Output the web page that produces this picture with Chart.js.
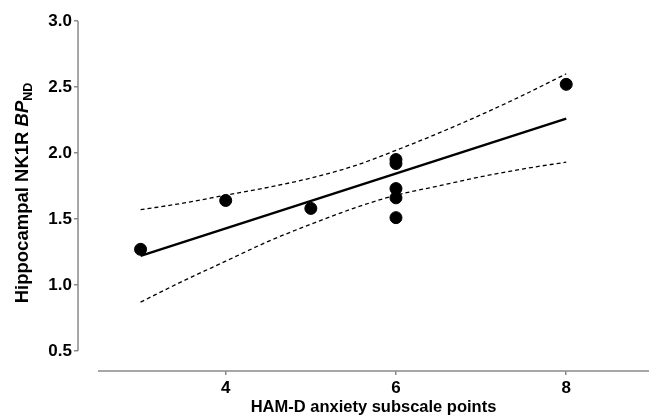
<!DOCTYPE html>
<html>
<head>
<meta charset="utf-8">
<script src="https://cdn.jsdelivr.net/npm/chart.js@4"></script>
<style>
  html, body { margin: 0; padding: 0; background: #fff; }
  #wrap { width: 649px; height: 418px; }
</style>
</head>
<body>
<div id="wrap"><canvas id="chart" width="649" height="418"></canvas></div>
<script>
// data
const anxietyScore = [3, 4, 5, 6, 6, 6, 6, 6, 8];
const bindingPotential = [1.27, 1.64, 1.58, 1.95, 1.92, 1.73, 1.66, 1.51, 2.52];

// regression line and 95% band
const fitX = [3, 8];
const fitY = [1.22, 2.26];
const bandX = [3, 3.5, 4, 4.5, 5, 5.5, 6, 6.5, 7, 7.5, 8];
const bandUpper = [1.57, 1.62, 1.68, 1.74, 1.81, 1.90, 2.02, 2.15, 2.29, 2.44, 2.60];
const bandLower = [0.87, 1.03, 1.18, 1.33, 1.46, 1.58, 1.68, 1.75, 1.82, 1.88, 1.93];

const xTicks = [4, 6, 8];
const yTicks = [0.5, 1.0, 1.5, 2.0, 2.5, 3.0];

const FONT = '"Liberation Sans", Arial, Helvetica, sans-serif';
const AXIS_GREY = '#8a8a8a';

function pts(xs, ys) {
    return xs.map((x, i) => ({ x: x, y: ys[i] }));
}

// Prism style offset axes + the two axis titles
const axesPlugin = {
    id: 'prismAxes',
    afterDraw(chart) {
        const ctx = chart.ctx;
        const xs = chart.scales.x, ys = chart.scales.y;
        const area = chart.chartArea;
        ctx.save();
        ctx.strokeStyle = AXIS_GREY;
        ctx.lineWidth = 1.5;
        // y axis line
        ctx.beginPath();
        ctx.moveTo(area.left, ys.getPixelForValue(3.0));
        ctx.lineTo(area.left, ys.getPixelForValue(0.5));
        ctx.stroke();
        // x axis line
        const xStart = xs.getPixelForValue(2.5);
        ctx.beginPath();
        ctx.moveTo(xStart, area.bottom);
        ctx.lineTo(chart.width, area.bottom);
        ctx.stroke();

        // x title
        ctx.fillStyle = '#000';
        ctx.font = 'bold 16.5px ' + FONT;
        ctx.textAlign = 'center';
        ctx.textBaseline = 'alphabetic';
        ctx.fillText('HAM-D anxiety subscale points', (xStart + chart.width) / 2, 412);

        // y title with italic BP and subscript ND
        ctx.translate(28, 193);
        ctx.rotate(-Math.PI / 2);
        const parts = [
            { t: 'Hippocampal NK1R ', f: 'bold 18.5px ' + FONT, dy: 0 },
            { t: 'BP', f: 'italic bold 18.5px ' + FONT, dy: 0 },
            { t: 'ND', f: 'bold 12.5px ' + FONT, dy: 4 }
        ];
        let total = 0;
        parts.forEach(p => { ctx.font = p.f; p.w = ctx.measureText(p.t).width; total += p.w; });
        let cx = -total / 2;
        ctx.textAlign = 'left';
        parts.forEach(p => {
            ctx.font = p.f;
            ctx.fillText(p.t, cx, p.dy);
            cx += p.w;
        });
        ctx.restore();
    }
};

var ctx = document.getElementById('chart').getContext('2d');
var myChart = new Chart(ctx, {
    type: 'scatter',
    data: {
        datasets: [{
            label: 'Subjects',
            data: pts(anxietyScore, bindingPotential),
            backgroundColor: '#000',
            borderColor: '#000',
            pointRadius: 6,
            pointHoverRadius: 6
        }, {
            label: 'Fit',
            data: pts(fitX, fitY),
            showLine: true,
            borderColor: '#000',
            borderWidth: 2.5,
            pointRadius: 0
        }, {
            label: 'Upper 95%',
            data: pts(bandX, bandUpper),
            showLine: true,
            borderColor: '#000',
            borderWidth: 1.3,
            borderDash: [4, 3],
            cubicInterpolationMode: 'monotone',
            pointRadius: 0
        }, {
            label: 'Lower 95%',
            data: pts(bandX, bandLower),
            showLine: true,
            borderColor: '#000',
            borderWidth: 1.3,
            borderDash: [4, 3],
            cubicInterpolationMode: 'monotone',
            pointRadius: 0
        }]
    },
    options: {
        responsive: false,
        animation: false,
        devicePixelRatio: 1,
        layout: {
            padding: { top: 21, right: 0, bottom: 0, left: 0 }
        },
        plugins: {
            legend: { display: false },
            tooltip: { enabled: false }
        },
        scales: {
            x: {
                type: 'linear',
                min: 2.265,
                max: 8.89,
                afterFit: function (s) { s.height = 47; },
                afterBuildTicks: function (s) { s.ticks = xTicks.map(v => ({ value: v })); },
                border: { display: false },
                grid: {
                    drawOnChartArea: false,
                    drawTicks: true,
                    tickLength: 4,
                    color: AXIS_GREY,
                    lineWidth: 1.5
                },
                ticks: {
                    color: '#000',
                    padding: 3,
                    maxRotation: 0,
                    font: { family: FONT, size: 17, weight: 'bold' }
                }
            },
            y: {
                type: 'linear',
                min: 0.348,
                max: 3.0,
                afterFit: function (s) { s.width = 78; },
                afterBuildTicks: function (s) { s.ticks = yTicks.map(v => ({ value: v })); },
                border: { display: false },
                grid: {
                    drawOnChartArea: false,
                    drawTicks: true,
                    tickLength: 4,
                    color: AXIS_GREY,
                    lineWidth: 1.5
                },
                ticks: {
                    color: '#000',
                    padding: 2,
                    font: { family: FONT, size: 17, weight: 'bold' },
                    callback: function (v) { return Number(v).toFixed(1); }
                }
            }
        }
    },
    plugins: [axesPlugin]
});
</script>
</body>
</html>
